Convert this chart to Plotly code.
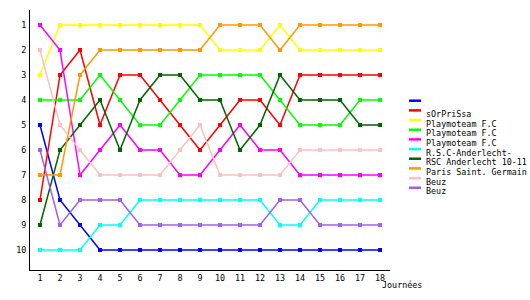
import plotly.graph_objects as go

journees = list(range(1, 19))
names = ["", "sOrPriSsa", "Playmoteam F.C", "Playmoteam F.C", "Playmoteam F.C",
         "R.S.C-Anderlecht-", "RSC Anderlecht 10-11", "Paris Saint. Germain", "Beuz", "Beuz"]
colors = ["#0000FF", "#FF0000", "#FFFF00", "#00FF00", "#FF00FF",
          "#00FFFF", "#006400", "#FF9900", "#FFC0C0", "#A060F0"]

blue = [5, 8, 9, 10, 10, 10, 10, 10, 10, 10, 10, 10, 10, 10, 10, 10, 10, 10]
red = [8, 3, 2, 5, 3, 3, 4, 5, 6, 5, 4, 4, 5, 3, 3, 3, 3, 3]
yellow = [3, 1, 1, 1, 1, 1, 1, 1, 1, 2, 2, 2, 1, 2, 2, 2, 2, 2]
lime = [4, 4, 4, 3, 4, 5, 5, 4, 3, 3, 3, 3, 4, 5, 5, 5, 4, 4]
magenta = [1, 2, 7, 6, 5, 6, 6, 7, 7, 6, 5, 6, 6, 7, 7, 7, 7, 7]
cyan = [10, 10, 10, 9, 9, 8, 8, 8, 8, 8, 8, 8, 9, 9, 8, 8, 8, 8]
darkgreen = [9, 6, 5, 4, 6, 4, 3, 3, 4, 4, 6, 5, 3, 4, 4, 4, 5, 5]
orange = [7, 7, 3, 2, 2, 2, 2, 2, 2, 1, 1, 1, 2, 1, 1, 1, 1, 1]
pink = [2, 5, 6, 7, 7, 7, 7, 6, 5, 7, 7, 7, 7, 6, 6, 6, 6, 6]
purple = [6, 9, 8, 8, 8, 9, 9, 9, 9, 9, 9, 9, 8, 8, 9, 9, 9, 9]

series = [blue, red, yellow, lime, magenta, cyan, darkgreen, orange, pink, purple]
rank_ticks = list(range(1, 11))

FONT = "DejaVu Sans Mono"

fig = go.Figure()
for vals, name, col in zip(series, names, colors):
    fig.add_trace(go.Scatter(
        x=journees, y=vals, mode="lines+markers", name=name,
        line=dict(color=col, width=1.5),
        marker=dict(color=col, size=4, symbol="square", line=dict(width=0)),
        showlegend=False,
    ))

# manual legend (paper coordinates)
W, H = 360.0, 260.0
x0 = (409 - 30) / W
x1 = (421 - 30) / W
xt = (424 - 30) / W
for i, (name, col) in enumerate(zip(names, colors)):
    py = 100.7 + i * 9.67
    yp = (270 - py) / H
    fig.add_shape(type="line", xref="paper", yref="paper", x0=x0, x1=x1, y0=yp, y1=yp,
                  line=dict(color=col, width=2.5))
    if name:
        fig.add_annotation(xref="paper", yref="paper", x=xt, y=(270 - py - 3.6) / H,
                           text=name, showarrow=False, xanchor="left", yanchor="middle",
                           font=dict(family=FONT, size=8.4, color="black"))

fig.add_annotation(xref="paper", yref="paper", x=(380 - 30) / W, y=(270 - 285) / H,
                   text="Journées", showarrow=False, xanchor="left", yanchor="middle",
                   font=dict(family=FONT, size=8.4, color="black"))

fig.update_layout(
    width=530, height=300,
    margin=dict(l=30, r=140, t=10, b=30),
    paper_bgcolor="white", plot_bgcolor="white",
    xaxis=dict(range=[0.5, 18.5], tickvals=journees, ticktext=[str(j) for j in journees],
               showgrid=False, zeroline=False, showline=True, linecolor="black", linewidth=1,
               ticks="", ticklabelstandoff=0,
               tickfont=dict(family=FONT, size=8.4, color="black")),
    yaxis=dict(range=[10.8, 0.4], tickvals=rank_ticks, ticktext=[str(r) for r in rank_ticks],
               showgrid=False, zeroline=False, showline=True, linecolor="black", linewidth=1,
               ticks="", ticklabelstandoff=1,
               tickfont=dict(family=FONT, size=8.4, color="black")),
    showlegend=False,
)

fig.write_html("out.html")
